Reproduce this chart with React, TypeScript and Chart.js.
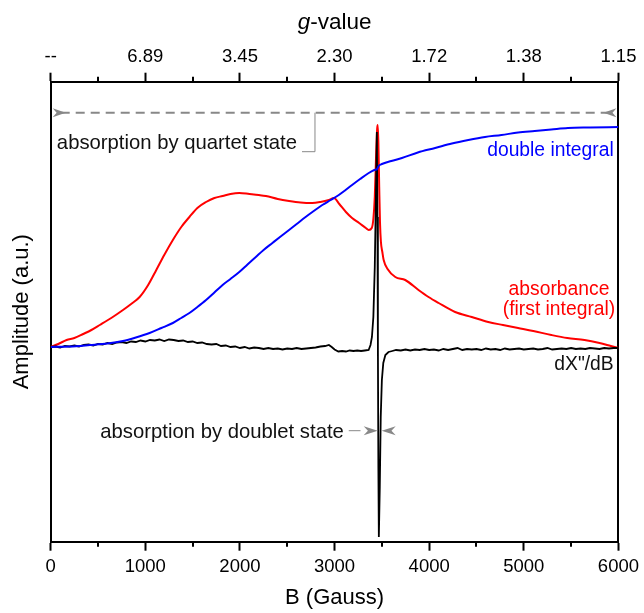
import React, { useEffect, useRef } from 'react';
import { Chart, registerables } from 'chart.js';

Chart.register(...registerables);

// ---------- data ----------
const gLabels = ['--', '6.89', '3.45', '2.30', '1.72', '1.38', '1.15'];

const blackB = [0, 50, 100, 150, 200, 250, 300, 350, 400, 450, 500, 550, 600, 650, 700, 750, 800, 850, 900, 950,
  1000, 1050, 1100, 1150, 1200, 1250, 1300, 1350, 1400, 1450, 1500, 1550, 1600, 1650, 1700, 1750, 1800, 1850, 1900, 1950,
  2000, 2050, 2100, 2150, 2200, 2250, 2300, 2350, 2400, 2450, 2500, 2550, 2600, 2650, 2700, 2750, 2800, 2850, 2900, 2940,
  2970, 3000, 3040, 3080, 3120, 3160, 3200, 3240, 3280, 3320, 3360, 3380, 3395, 3410, 3425, 3437, 3447, 3453, 3458, 3463,
  3468, 3478, 3488, 3500, 3515, 3537, 3570, 3610, 3650, 3700, 3750, 3800, 3850, 3900, 3950, 4000, 4050, 4100, 4150, 4200,
  4250, 4300, 4350, 4400, 4450, 4500, 4550, 4600, 4650, 4700, 4750, 4800, 4850, 4900, 4950, 5000, 5050, 5100, 5150, 5200,
  5250, 5300, 5350, 5400, 5450, 5500, 5550, 5600, 5650, 5700, 5750, 5800, 5850, 5900, 5950, 6000];
const blackAmp = [0, 0.5, -0.5, 1, 0.5, 1.5, 0.5, 2, 2.5, 1.5, 3, 2.5, 4, 3, 4.5, 5, 4, 5.5, 5, 6.5,
  5.5, 7, 6.5, 7.5, 6, 7.5, 7, 6, 6.5, 5, 5.5, 4, 4.5, 3, 2.5, 3, 1, 1.5, 0, 0.5,
  -1, 0, -1.5, -0.5, -1, -2, -1, -2, -1.5, -2.5, -1.5, -2, -1, -2, -1.5, -1, -0.5, 0.5, 1, 2,
  0, -2.5, -4.5, -4, -4.5, -3.5, -4, -3.5, -4, -3.5, -3, 2, 10, 30, 80, 150, 215, 130, 0, -120,
  -190, -140, -70, -33, -16, -8, -5, -4, -3, -3.5, -2.5, -3.5, -2.5, -3, -2, -3, -2.5, -3.5, -2, -3,
  -2, -1, -3, -2, -2.5, -2, -3, -1.5, -2.5, -2, -3, -1.5, -2.5, -2, -1.5, -2.5, -2, -1.5, -2.5, -2,
  -1, -2.5, -2, -1.5, -2, -1, -2, -1.5, -2, -1, -1.5, -2, -1, -1.5, -1, -1];

const redB = [0, 80, 168, 250, 343, 430, 519, 640, 764, 850, 940, 1030, 1116, 1200, 1291, 1380, 1466, 1550, 1642, 1730,
  1817, 1900, 1993, 2100, 2200, 2274, 2400, 2519, 2640, 2764, 2850, 2940, 2993, 3050, 3120, 3185, 3260, 3330, 3361, 3393,
  3410, 3425, 3440, 3450, 3456, 3463, 3472, 3480, 3490, 3505, 3519, 3560, 3642, 3747, 3887, 3993, 4100, 4274, 4450, 4624,
  4780, 4940, 5100, 5291, 5460, 5642, 5800, 5920, 6000];
const redAmp = [0, 3, 7, 9, 13, 17, 22, 29, 37, 43, 50, 62, 77, 92, 107, 120, 130, 139, 145, 149,
  151, 153, 154, 153, 152, 151, 148, 146, 144.5, 144, 145, 147, 149, 143, 135, 129, 124, 119, 117, 119,
  128, 150, 195, 218, 222, 205, 160, 125, 105, 95, 87, 78, 70, 67, 57, 50, 44, 35, 30, 25,
  22, 19, 16, 12, 9, 7, 4, 1, -1];

const blueB = [0, 200, 414, 600, 764, 900, 1045, 1170, 1291, 1380, 1466, 1550, 1642, 1730, 1817, 1900, 1993, 2080, 2168, 2250,
  2343, 2430, 2519, 2600, 2694, 2780, 2870, 2960, 3045, 3110, 3185, 3270, 3361, 3420, 3450, 3466, 3500, 3600, 3712, 3880,
  4063, 4240, 4414, 4590, 4764, 4940, 5115, 5290, 5466, 5700, 6000];
const blueAmp = [0, 0.5, 2, 3.5, 6, 9.5, 14, 19, 24, 29, 34, 40, 47, 54.5, 62, 68, 75, 82.5, 90, 97,
  104, 110.5, 117, 123, 130, 136, 142, 147, 152, 156.5, 162, 168, 174, 177, 178, 181, 183, 186, 189, 194.5,
  199, 203.5, 207, 210, 212, 214.5, 216, 217.5, 219, 219.5, 220];

// axis ranges
const X_MIN = 0;
const X_MAX = 6000;
const Y_MIN = -194.7;
const Y_MAX = 265.3;

// annotation anchors (data coordinates)
const quartetArrowY = 234.3;
const quartetLeader = { x: 2793, yTop: 234.3, yBottom: 195.3, xEnd: 2656 };
const quartetText = { x: 2603, y: 204, text: 'absorption by quartet state' };
const doubletText = { x: 3098, y: -85, text: 'absorption by doublet state' };
const doubletLeader = { x0: 3150, x1: 3274, y: -83.7 };
const doubletArrows = { leftTip: 3456, rightTip: 3498, y: -83.7 };
const labelDouble = { x: 5950, y: 196, text: 'double integral' };
const labelAbs1 = { x: 5372, y: 57.7, text: 'absorbance' };
const labelAbs2 = { x: 5372, y: 37, text: '(first integral)' };
const labelDeriv = { x: 5950, y: -18, text: 'dX"/dB' };

const FONT = '"Liberation Sans", Arial, Helvetica, sans-serif';
const GRAY = '#888888';

function zip(xs: number[], ys: number[]) {
  return xs.map((x, i) => ({ x, y: ys[i] }));
}

function arrowHead(ctx: CanvasRenderingContext2D, tipX: number, tipY: number, dir: number, len: number, half: number) {
  ctx.beginPath();
  ctx.moveTo(tipX, tipY);
  ctx.lineTo(tipX - dir * len, tipY - half);
  ctx.lineTo(tipX - dir * len * 0.7, tipY);
  ctx.lineTo(tipX - dir * len, tipY + half);
  ctx.closePath();
  ctx.fill();
}

const decorPlugin = {
  id: 'eprDecor',
  afterDatasetsDraw(chart: any) {
    const { ctx } = chart;
    const xs = chart.scales.x;
    const ys = chart.scales.y;
    const px = (v: number) => xs.getPixelForValue(v);
    const py = (v: number) => ys.getPixelForValue(v);
    ctx.save();

    ctx.strokeStyle = GRAY;
    ctx.fillStyle = GRAY;
    ctx.lineWidth = 2;
    ctx.setLineDash([9, 6]);
    ctx.beginPath();
    ctx.moveTo(px(X_MIN) + 10, py(quartetArrowY));
    ctx.lineTo(px(X_MAX) - 10, py(quartetArrowY));
    ctx.stroke();
    ctx.setLineDash([]);
    arrowHead(ctx, px(X_MIN) + 15, py(quartetArrowY), 1, 13, 4.5);
    arrowHead(ctx, px(X_MAX) - 15, py(quartetArrowY), -1, 13, 4.5);

    ctx.lineWidth = 1;
    ctx.beginPath();
    ctx.moveTo(px(quartetLeader.x), py(quartetLeader.yTop));
    ctx.lineTo(px(quartetLeader.x), py(quartetLeader.yBottom));
    ctx.lineTo(px(quartetLeader.xEnd), py(quartetLeader.yBottom));
    ctx.stroke();

    ctx.beginPath();
    ctx.moveTo(px(doubletLeader.x0), py(doubletLeader.y));
    ctx.lineTo(px(doubletLeader.x1), py(doubletLeader.y));
    ctx.stroke();
    arrowHead(ctx, px(doubletArrows.leftTip), py(doubletArrows.y), 1, 14, 4.5);
    arrowHead(ctx, px(doubletArrows.rightTip), py(doubletArrows.y), -1, 14, 4.5);

    ctx.textBaseline = 'middle';
    ctx.font = `20.3px ${FONT}`;
    ctx.fillStyle = '#111111';
    ctx.textAlign = 'right';
    ctx.fillText(quartetText.text, px(quartetText.x), py(quartetText.y));
    ctx.fillText(doubletText.text, px(doubletText.x), py(doubletText.y));

    ctx.font = `19.3px ${FONT}`;
    ctx.fillStyle = '#0000ff';
    ctx.fillText(labelDouble.text, px(labelDouble.x), py(labelDouble.y));
    ctx.fillStyle = '#111111';
    ctx.fillText(labelDeriv.text, px(labelDeriv.x), py(labelDeriv.y));
    ctx.fillStyle = '#ff0000';
    ctx.textAlign = 'center';
    ctx.fillText(labelAbs1.text, px(labelAbs1.x), py(labelAbs1.y));
    ctx.fillText(labelAbs2.text, px(labelAbs2.x), py(labelAbs2.y));

    ctx.restore();
  },
  afterDraw(chart: any) {
    const { ctx, chartArea } = chart;
    const xs = chart.scales.x;
    ctx.save();
    ctx.strokeStyle = '#000000';
    ctx.lineWidth = 2;
    for (let v = 500; v < X_MAX; v += 1000) {
      const x = Math.round(xs.getPixelForValue(v));
      ctx.beginPath();
      ctx.moveTo(x, chartArea.bottom);
      ctx.lineTo(x, chartArea.bottom + 5);
      ctx.moveTo(x, chartArea.top);
      ctx.lineTo(x, chartArea.top - 5);
      ctx.stroke();
    }
    const cx = (chartArea.left + chartArea.right) / 2;
    const y = 23;
    ctx.fillStyle = '#000000';
    ctx.textBaseline = 'middle';
    ctx.textAlign = 'left';
    ctx.font = `italic 22.5px ${FONT}`;
    const wg = ctx.measureText('g').width;
    ctx.font = `22.5px ${FONT}`;
    const wr = ctx.measureText('-value').width;
    const start = cx - (wg + wr) / 2;
    ctx.font = `italic 22.5px ${FONT}`;
    ctx.fillText('g', start, y);
    ctx.font = `22.5px ${FONT}`;
    ctx.fillText('-value', start + wg, y);
    ctx.restore();
  },
};

export default function App() {
  const ref = useRef<HTMLCanvasElement | null>(null);

  useEffect(() => {
    if (!ref.current) return;
    const tickFont = { family: FONT, size: 18.5 };
    const chart = new Chart(ref.current, {
      type: 'line',
      data: {
        datasets: [
          {
            label: 'double integral',
            data: zip(blueB, blueAmp),
            borderColor: '#0000ff',
            borderWidth: 2,
            pointRadius: 0,
            cubicInterpolationMode: 'monotone',
          },
          {
            label: 'dX"/dB',
            data: zip(blackB, blackAmp),
            borderColor: '#000000',
            borderWidth: 1.8,
            pointRadius: 0,
            tension: 0,
          },
          {
            label: 'absorbance',
            data: zip(redB, redAmp),
            borderColor: '#ff0000',
            borderWidth: 2,
            pointRadius: 0,
            cubicInterpolationMode: 'monotone',
          },
        ],
      },
      options: {
        animation: false,
        responsive: false,
        devicePixelRatio: 1,
        layout: { padding: { left: 0, right: 23.3, top: 0, bottom: 0 } },
        plugins: { legend: { display: false }, tooltip: { enabled: false } },
        scales: {
          x: {
            type: 'linear',
            position: 'bottom',
            min: X_MIN,
            max: X_MAX,
            afterFit: (s: any) => { s.height = 71.3; },
            ticks: {
              stepSize: 1000,
              autoSkip: false,
              maxRotation: 0,
              minRotation: 0,
              color: '#000000',
              font: tickFont,
              padding: 5,
              callback: (v: any) => String(Math.round(Number(v))),
            },
            grid: { drawOnChartArea: false, drawTicks: true, tickLength: 9, tickWidth: 2, tickColor: '#000000' },
            border: { display: true, color: '#000000', width: 2 },
            title: {
              display: true,
              text: 'B (Gauss)',
              color: '#000000',
              font: { family: FONT, size: 22 },
              padding: { top: 0, bottom: 2 },
            },
          },
          xTop: {
            type: 'linear',
            position: 'top',
            min: X_MIN,
            max: X_MAX,
            afterFit: (s: any) => { s.height = 81.7; },
            ticks: {
              stepSize: 1000,
              autoSkip: false,
              maxRotation: 0,
              minRotation: 0,
              color: '#000000',
              font: tickFont,
              padding: 5,
              callback: (v: any) => gLabels[Math.round(Number(v) / 1000)],
            },
            grid: { drawOnChartArea: false, drawTicks: true, tickLength: 9, tickWidth: 2, tickColor: '#000000' },
            border: { display: true, color: '#000000', width: 2 },
          },
          y: {
            type: 'linear',
            position: 'left',
            min: Y_MIN,
            max: Y_MAX,
            afterFit: (s: any) => { s.width = 50.7; },
            ticks: { display: false },
            grid: { drawOnChartArea: false, drawTicks: false },
            border: { display: true, color: '#000000', width: 2 },
            title: {
              display: true,
              text: 'Amplitude (a.u.)',
              color: '#000000',
              font: { family: FONT, size: 22 },
              padding: { top: 9, bottom: 0 },
            },
          },
          yRight: {
            type: 'linear',
            position: 'right',
            min: Y_MIN,
            max: Y_MAX,
            afterFit: (s: any) => { s.width = 0; },
            ticks: { display: false },
            grid: { drawOnChartArea: false, drawTicks: false },
            border: { display: true, color: '#000000', width: 2 },
          },
        },
      },
      plugins: [decorPlugin],
    } as any);
    return () => chart.destroy();
  }, []);

  return (
    <div style={{ position: 'fixed', left: 0, top: 0, width: 644, height: 613, background: '#ffffff' }}>
      <canvas ref={ref} width={644} height={613} style={{ display: 'block', width: 644, height: 613 }} />
    </div>
  );
}
